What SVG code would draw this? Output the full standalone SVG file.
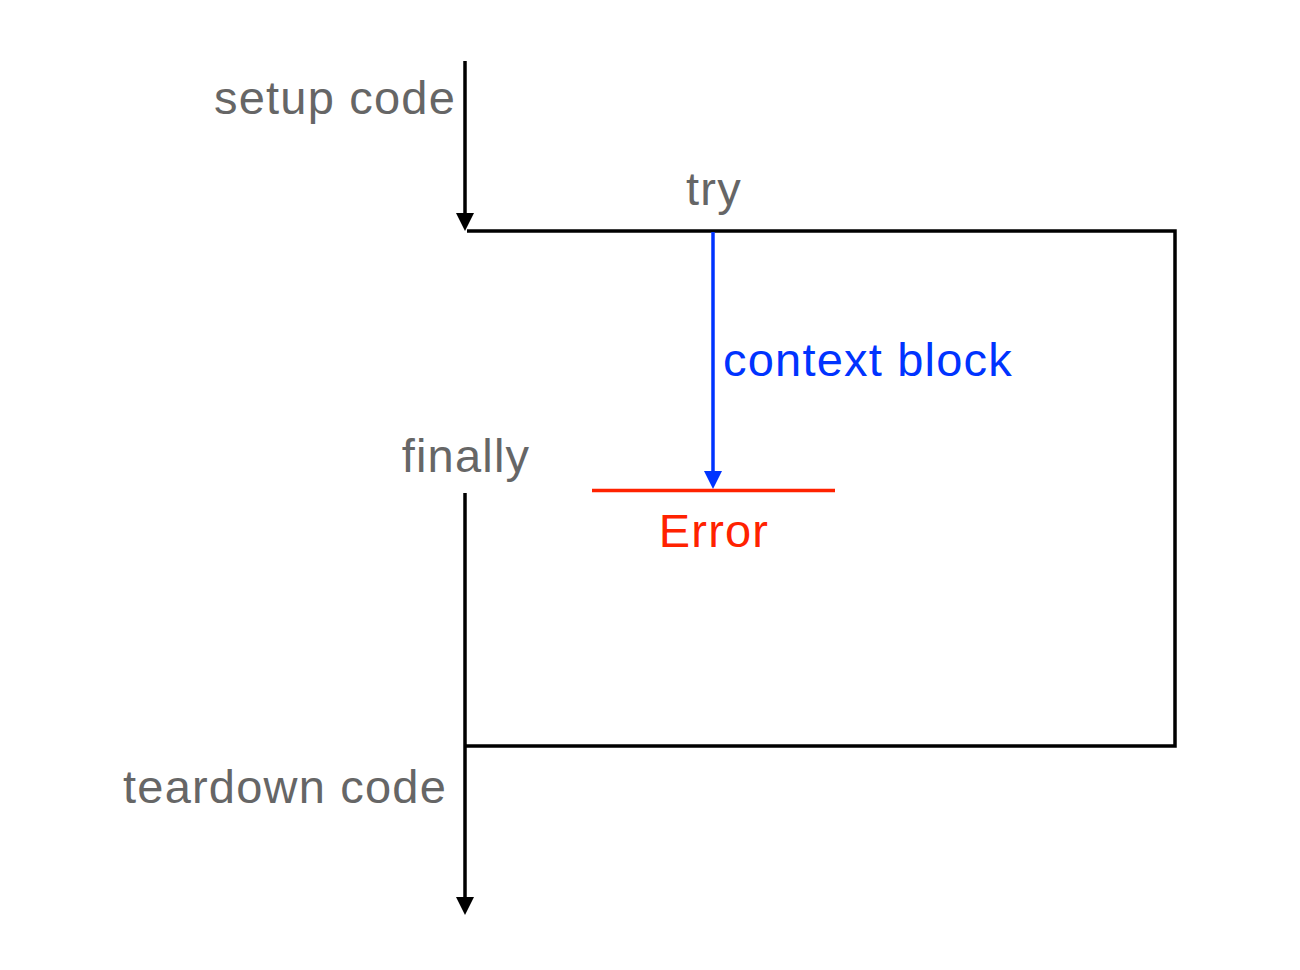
<svg xmlns="http://www.w3.org/2000/svg" width="1300" height="970" viewBox="0 0 1300 970">
<style>
  .lbl { font-family: "Liberation Sans", Arial, sans-serif; font-size: 47px; fill: #666666; letter-spacing: 1.2px; }
  .blk { fill: none; stroke: #000000; stroke-width: 3.5; }
</style>
<defs>
  <marker id="ab" markerUnits="userSpaceOnUse" viewBox="0 0 18 18" markerWidth="18" markerHeight="18" refX="0" refY="9" orient="auto">
    <path d="M0,0 L18,9 L0,18 z" fill="#000000"/>
  </marker>
  <marker id="abl" markerUnits="userSpaceOnUse" viewBox="0 0 18 18" markerWidth="18" markerHeight="18" refX="0" refY="9" orient="auto">
    <path d="M0,0 L18,9 L0,18 z" fill="#0033FF"/>
  </marker>
</defs>
<rect width="1300" height="970" fill="#ffffff"/>
<g id="connectors">
  <path class="blk" d="M465,61 V213" marker-end="url(#ab)"/>
  <path class="blk" d="M467,231 H1175 V746 H465"/>
  <path class="blk" d="M465,493 V897" marker-end="url(#ab)"/>
  <path d="M713,232 V471" fill="none" stroke="#0033FF" stroke-width="3.5" marker-end="url(#abl)"/>
</g>
<g id="error-line">
  <line x1="592" y1="490.5" x2="835" y2="490.5" stroke="#FF2200" stroke-width="3.5"/>
</g>
<g id="setup"><text class="lbl" x="456" y="114" text-anchor="end">setup code</text></g>
<g id="try"><text class="lbl" x="714" y="205" text-anchor="middle">try</text></g>
<g id="context"><text class="lbl" x="723" y="376" style="fill:#0033FF">context block</text></g>
<g id="finally"><text class="lbl" x="466" y="472" text-anchor="middle">finally</text></g>
<g id="error"><text class="lbl" x="714" y="547" text-anchor="middle" style="fill:#FF2200">Error</text></g>
<g id="teardown"><text class="lbl" x="447" y="803" text-anchor="end">teardown code</text></g>
</svg>
